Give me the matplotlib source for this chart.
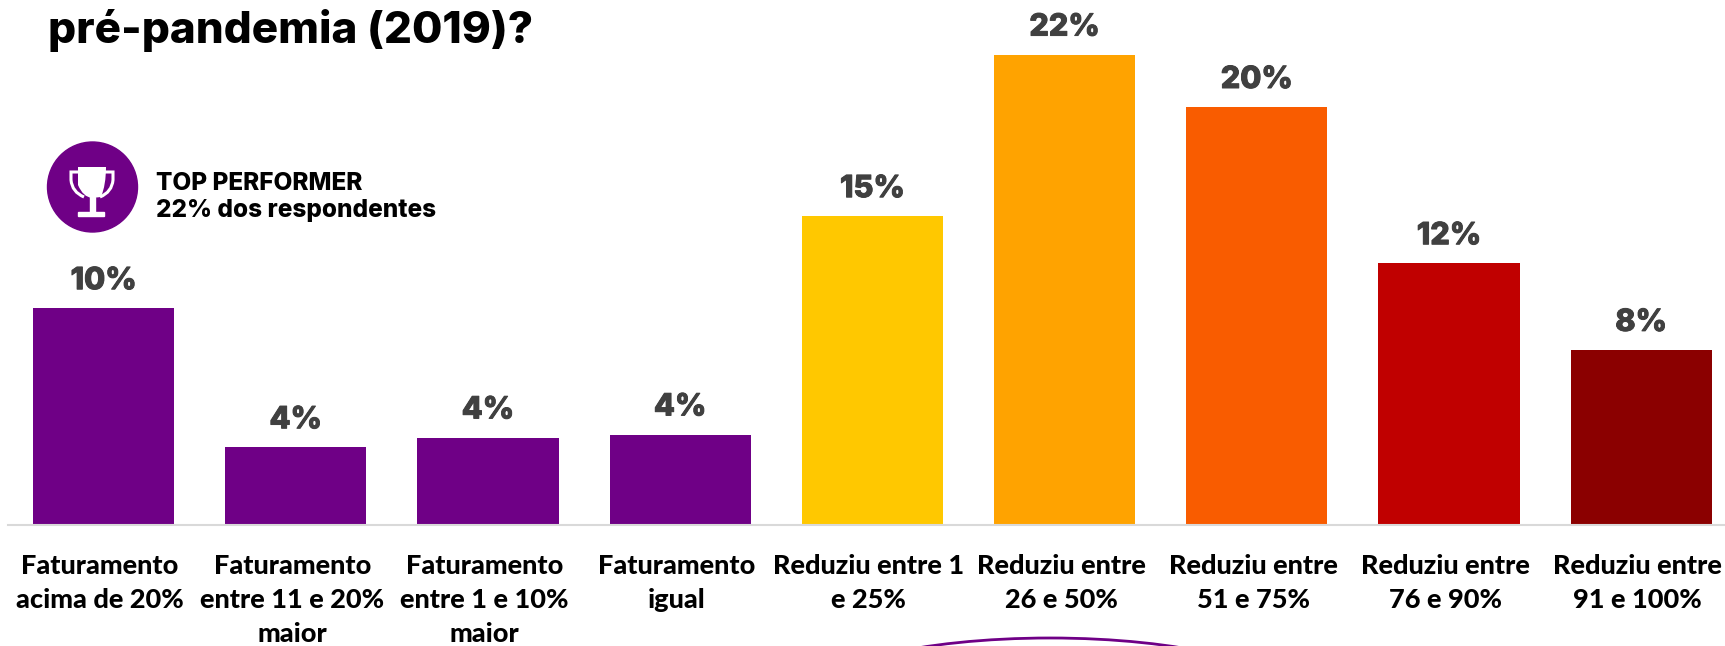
import numpy as np
import matplotlib
matplotlib.use('Agg')
import matplotlib.pyplot as plt
import matplotlib.patheffects as pe
from matplotlib.patches import Ellipse, Rectangle, PathPatch
from matplotlib.path import Path
from matplotlib.transforms import ScaledTranslation

plt.rcParams['font.family'] = ['Inter', 'DejaVu Sans']

categories = ['Faturamento\nacima de 20%', 'Faturamento\nentre 11 e 20%\nmaior',
              'Faturamento\nentre 1 e 10%\nmaior', 'Faturamento\nigual',
              'Reduziu entre 1\ne 25%', 'Reduziu entre\n26 e 50%',
              'Reduziu entre\n51 e 75%', 'Reduziu entre\n76 e 90%',
              'Reduziu entre\n91 e 100%']
values = [10.1, 3.6, 4.06, 4.2, 14.4, 21.95, 19.5, 12.2, 8.15]
labels = ['10%', '4%', '4%', '4%', '15%', '22%', '20%', '12%', '8%']
colors = ['#6F0086', '#6F0086', '#6F0086', '#6F0086', '#FFC800',
          '#FFA300', '#F95C00', '#C00000', '#8B0000']

W, H = 1725, 646
fig = plt.figure(figsize=(W / 100, H / 100), dpi=100)

# eixo das barras, em pixels da imagem
ax = fig.add_axes([8 / W, (H - 524.5) / H, (W - 8) / W, 524.5 / H])
x = np.arange(len(values))
ax.bar(x, values, width=0.735, color=colors)
ax.set_xlim((8 - 103.6) / 192.2, (W - 103.6) / 192.2)
ax.set_ylim(0, 524.5 / 21.4)
for s in ['top', 'left', 'right']:
    ax.spines[s].set_visible(False)
ax.spines['bottom'].set_color('#D9D9D9')
ax.spines['bottom'].set_linewidth(1.5)
ax.set_yticks([])
ax.set_xticks(x)
ax.set_xticklabels(categories, fontsize=19.5, fontweight=900, family=['Lato', 'DejaVu Sans'],
                   linespacing=1.5, color='black')
ax.tick_params(axis='x', length=0, pad=21.5)
# os rotulos ficam um pouco a esquerda do centro da barra
shift = ScaledTranslation(-3.5 / 100, 0, fig.dpi_scale_trans)
for t in ax.get_xticklabels():
    t.set_transform(t.get_transform() + shift)

for i, v in enumerate(values):
    ax.annotate(labels[i], (i, v), xytext=(0, 9.5), textcoords='offset points',
                ha='center', va='bottom', fontsize=22, fontweight=800, color='#404040',
                path_effects=[pe.withStroke(linewidth=0.7, foreground='#404040')])

# camada em pixels para titulo e icone
over = fig.add_axes([0, 0, 1, 1])
over.set_xlim(0, W)
over.set_ylim(H, 0)
over.axis('off')
over.patch.set_alpha(0)

over.text(48, 30, 'pré-pandemia (2019)?', fontsize=31.7, fontweight=800, color='black',
          ha='left', va='center')
over.text(156, 183, 'TOP PERFORMER', fontsize=17.5, fontweight=800, color='black', ha='left', va='center')
over.text(156, 211, '22% dos respondentes', fontsize=17.5, fontweight=800, color='black', ha='left', va='center')

over.add_patch(Ellipse((92.5, 187), 90, 90, color='#6F0086'))
# trofeu
cup = Path([(78, 167), (106, 167), (106, 185), (101, 197), (92, 198), (83, 197), (78, 185), (78, 167)],
           [Path.MOVETO, Path.LINETO, Path.CURVE3, Path.CURVE3, Path.LINETO, Path.CURVE3, Path.CURVE3, Path.CLOSEPOLY])
over.add_patch(PathPatch(cup, facecolor='white', edgecolor='none'))
handles = Path([(80, 172), (71, 172), (71, 180), (72, 192), (84, 197),
                (104, 172), (113, 172), (113, 180), (112, 192), (100, 197)],
               [Path.MOVETO, Path.LINETO, Path.LINETO, Path.CURVE3, Path.CURVE3,
                Path.MOVETO, Path.LINETO, Path.LINETO, Path.CURVE3, Path.CURVE3])
over.add_patch(PathPatch(handles, facecolor='none', edgecolor='white', lw=2.2))
over.add_patch(Rectangle((89.5, 197), 5, 15, color='white'))
over.add_patch(Rectangle((78, 212), 26, 4, color='white'))

# forma cortada embaixo
over.add_patch(Ellipse((1050, 698), 480, 120, fill=False, edgecolor='#6F0086', lw=2))

fig.savefig('out.png', dpi=100)
